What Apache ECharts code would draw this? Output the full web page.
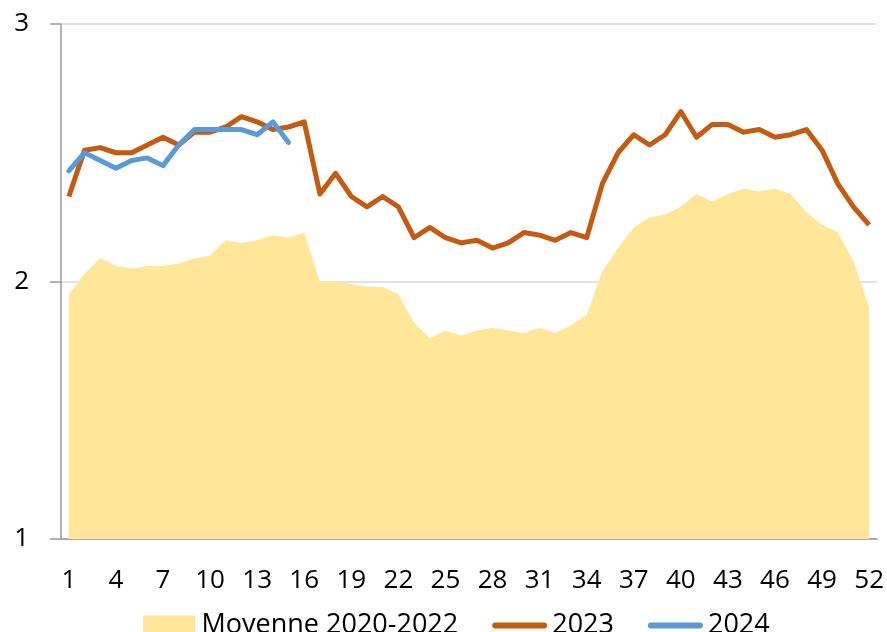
<!DOCTYPE html>
<html>
<head>
<meta charset="utf-8">
<script src="https://cdn.jsdelivr.net/npm/echarts@6/dist/echarts.min.js"></script>
<style>
  html, body { margin: 0; padding: 0; background: #fff; }
  #chart { width: 887px; height: 632px; }
</style>
</head>
<body>
<div id="chart"></div>
<script>
// semaines 1..52
const weeks = [];
for (let i = 1; i <= 52; i++) weeks.push(String(i));

const moyenne = [
  1.95, 2.03, 2.09, 2.06, 2.05, 2.06, 2.06, 2.07, 2.09, 2.10,
  2.16, 2.15, 2.16, 2.18, 2.17, 2.19, 2.00, 2.00, 1.99, 1.98,
  1.98, 1.95, 1.84, 1.78, 1.81, 1.79, 1.81, 1.82, 1.81, 1.80,
  1.82, 1.80, 1.83, 1.87, 2.04, 2.13, 2.21, 2.25, 2.26, 2.29,
  2.34, 2.31, 2.34, 2.36, 2.35, 2.36, 2.34, 2.27, 2.22, 2.19,
  2.08, 1.90
];

const y2023 = [
  2.33, 2.51, 2.52, 2.50, 2.50, 2.53, 2.56, 2.53, 2.58, 2.58,
  2.60, 2.64, 2.62, 2.59, 2.60, 2.62, 2.34, 2.42, 2.33, 2.29,
  2.33, 2.29, 2.17, 2.21, 2.17, 2.15, 2.16, 2.13, 2.15, 2.19,
  2.18, 2.16, 2.19, 2.17, 2.38, 2.50, 2.57, 2.53, 2.57, 2.66,
  2.56, 2.61, 2.61, 2.58, 2.59, 2.56, 2.57, 2.59, 2.51, 2.38,
  2.29, 2.22
];

const y2024 = [
  2.43, 2.50, 2.47, 2.44, 2.47, 2.48, 2.45, 2.53, 2.59, 2.59,
  2.59, 2.59, 2.57, 2.62, 2.54
];

const font = '"Open Sans", "Noto Sans", sans-serif';
const rectIcon = 'path://M0,0h52v20h-52z';
const lineIcon = 'path://M3,0h49a3,3 0 0 1 0,6h-49a3,3 0 0 1 0,-6z';

const chart = echarts.init(document.getElementById('chart'));
chart.setOption({
  animation: false,
  grid: { left: 61, right: 10, top: 24, bottom: 93 },
  legend: {
    left: 138,
    top: 607,
    itemWidth: 55,
    itemHeight: 20,
    itemGap: 34,
    textStyle: { fontFamily: font, fontSize: 27, color: '#000' },
    data: [
      { name: 'Moyenne 2020-2022', icon: rectIcon },
      { name: '2023', icon: lineIcon },
      { name: '2024', icon: lineIcon }
    ]
  },
  xAxis: {
    type: 'category',
    data: weeks,
    boundaryGap: true,
    axisLine: { lineStyle: { color: '#999', width: 1.5 } },
    axisTick: { interval: 4, length: 10, lineStyle: { color: '#999', width: 1.5 } },
    axisLabel: { interval: 2, margin: 29, fontFamily: font, fontSize: 26, color: '#000' }
  },
  yAxis: {
    type: 'value',
    min: 1,
    max: 3,
    interval: 1,
    axisLine: { show: true, lineStyle: { color: '#999', width: 1.5 } },
    axisTick: { show: true, length: 11, lineStyle: { color: '#999', width: 1.5 } },
    axisLabel: { margin: 32, fontFamily: font, fontSize: 26, color: '#000' },
    splitLine: { lineStyle: { color: '#d9d9d9', width: 1.5 } }
  },
  series: [
    {
      name: 'Moyenne 2020-2022',
      type: 'line',
      data: moyenne,
      symbol: 'none',
      lineStyle: { width: 0 },
      itemStyle: { color: '#ffe699' },
      areaStyle: { color: '#ffe699', opacity: 1 }
    },
    {
      name: '2023',
      type: 'line',
      data: y2023,
      symbol: 'none',
      lineStyle: { width: 5, color: '#c55a11', join: 'round' },
      itemStyle: { color: '#c55a11' }
    },
    {
      name: '2024',
      type: 'line',
      data: y2024,
      symbol: 'none',
      lineStyle: { width: 5, color: '#5b9bd5', join: 'round', cap: 'round' },
      itemStyle: { color: '#5b9bd5' }
    }
  ]
});
</script>
</body>
</html>
